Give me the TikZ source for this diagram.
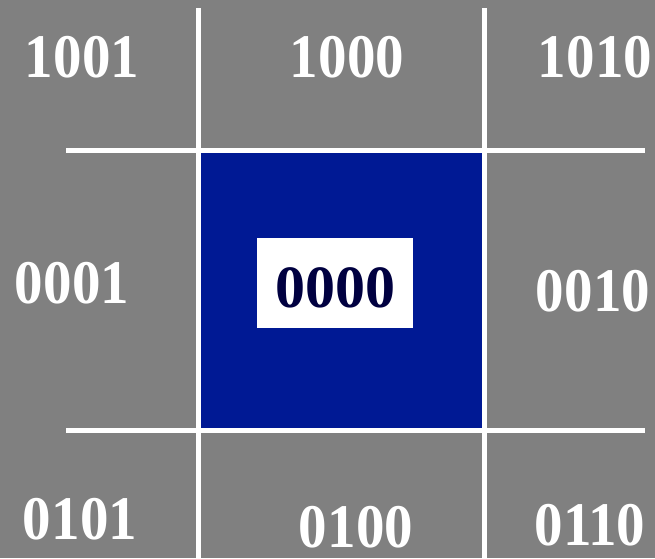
\documentclass[tikz,border=0pt]{standalone}
\usepackage{fontspec}
\setmainfont{Liberation Serif}
\newfontfamily\narrowserif[FakeStretch=0.92]{Liberation Serif}
\definecolor{bggray}{HTML}{808080}
\definecolor{regblue}{HTML}{001994}
\definecolor{codenavy}{HTML}{000040}
\begin{document}
\begin{tikzpicture}[x=1pt,y=-1pt,
  code/.style={inner sep=0pt,text=white,font=\narrowserif\fontsize{62}{62}\selectfont\bfseries},
  centercode/.style={inner sep=0pt,text=codenavy,font=\fontsize{60}{60}\selectfont\bfseries},
  gridline/.style={white,line width=5pt}]
\useasboundingbox (0,0) rectangle (655,558);
\fill[bggray] (0,0) rectangle (655,558);
\fill[regblue] (198,150) rectangle (484,430);
\node[fill=white,minimum width=156pt,minimum height=90pt,inner sep=0pt] (box) at (335,283) {};
\node[centercode] (c0000) at (335,287.5) {0000};
\draw[gridline] (198,8) -- (198,558);
\draw[gridline] (484,8) -- (484,558);
\draw[gridline] (66,150) -- (645,150);
\draw[gridline] (66,430) -- (645,430);
\node[code] (c1001) at (82,57) {1001};
\node[code] (c1000) at (347,57) {1000};
\node[code] (c1010) at (595,57) {1010};
\node[code] (c0001) at (72,283) {0001};
\node[code] (c0010) at (593,291) {0010};
\node[code] (c0101) at (80,519) {0101};
\node[code] (c0100) at (356,527) {0100};
\node[code] (c0110) at (590,525) {0110};
\end{tikzpicture}
\end{document}
